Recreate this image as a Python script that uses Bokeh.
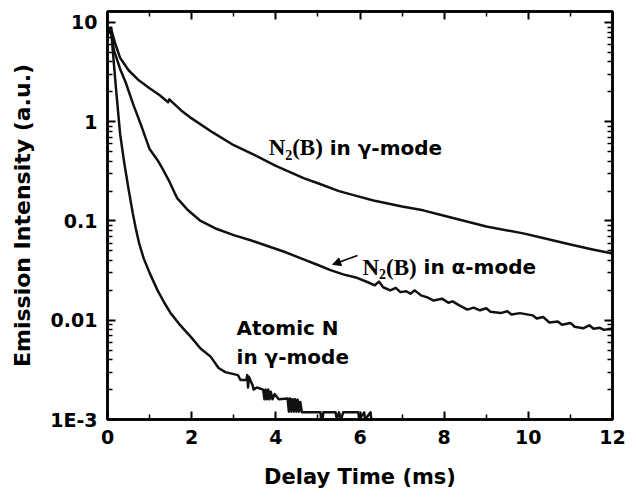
from bokeh.plotting import figure
from bokeh.models import (FixedTicker, LinearAxis, LogAxis, Label, Arrow, NormalHead)
from bokeh.embed import file_html
from bokeh.resources import INLINE

# ---------------- data ----------------
gamma_t = [0.0, 0.08, 0.19, 0.3, 0.5, 0.75, 1.0, 1.25, 1.44, 1.47, 1.5, 1.75, 2.0,
           2.5, 3.0, 3.5, 4.0, 4.66, 5.0, 5.5, 6.0, 6.32, 7.0, 7.5, 8.0, 8.7,
           9.0, 9.88, 10.5, 11.0, 11.5, 12.0]
gamma_v = [7.5, 8.8, 6.0, 4.4, 3.3, 2.6, 2.17, 1.84, 1.57, 1.68, 1.63, 1.30, 1.08,
           0.78, 0.58, 0.46, 0.36, 0.27, 0.24, 0.20, 0.175, 0.161, 0.14, 0.128,
           0.113, 0.095, 0.088, 0.075, 0.065, 0.058, 0.052, 0.047]

alpha_t = [0.0, 0.08, 0.15, 0.3, 0.43, 0.62, 0.8, 1.0, 1.19, 1.3, 1.45, 1.6, 1.66,
           1.9, 2.2, 2.6, 3.0, 3.4, 3.8, 4.2, 4.66, 5.0, 5.3, 5.6, 5.9, 6.2, 6.35,
           6.45, 6.55, 6.72, 6.85, 6.96, 7.1, 7.2, 7.3, 7.45, 7.6, 7.75, 7.95, 8.1,
           8.2, 8.35, 8.55, 8.7, 8.85, 9.0, 9.1, 9.34, 9.5, 9.6, 9.8, 10.1, 10.2,
           10.35, 10.5, 10.7, 10.8, 11.0, 11.1, 11.3, 11.45, 11.55, 11.7, 11.8,
           11.95, 12.0]
alpha_v = [7.5, 8.8, 5.3, 3.4, 2.5, 1.46, 0.92, 0.53, 0.41, 0.34, 0.26, 0.19, 0.169,
           0.13, 0.101, 0.083, 0.072, 0.064, 0.056, 0.049, 0.041, 0.036, 0.032,
           0.029, 0.027, 0.024, 0.0225, 0.0245, 0.0215, 0.020, 0.0212, 0.0192,
           0.0196, 0.0185, 0.0200, 0.0178, 0.0170, 0.0158, 0.0165, 0.0150, 0.0155,
           0.0142, 0.0128, 0.0134, 0.0126, 0.0132, 0.0122, 0.0118, 0.0123, 0.0114,
           0.0118, 0.0112, 0.0104, 0.0108, 0.0095, 0.0097, 0.0090, 0.0094, 0.0086,
           0.0083, 0.0089, 0.0082, 0.0084, 0.0080, 0.0082, 0.0080]

atomic_t = [0.0, 0.08, 0.2, 0.3, 0.4, 0.5, 0.6, 0.67, 0.75, 0.86, 1.0, 1.19, 1.35,
            1.5, 1.7, 1.85, 1.98, 2.21, 2.45, 2.64, 2.8, 2.95, 3.1, 3.16, 3.3,
            3.32, 3.34, 3.36, 3.45, 3.47, 3.55, 3.7, 3.73, 3.76, 3.79, 3.82, 3.85,
            3.88, 3.92, 3.97, 4.07, 4.28, 4.31, 4.34, 4.37, 4.40, 4.43, 4.46, 4.49,
            4.52, 4.55, 4.58, 4.62, 4.66, 5.06, 5.08, 5.11, 5.13, 5.42, 5.45, 5.5,
            5.55, 5.6, 5.96, 5.98, 6.1, 6.12, 6.25, 6.27, 6.37]
atomic_v = [7.5, 8.8, 2.2, 0.75, 0.38, 0.21, 0.12, 0.085, 0.06, 0.042, 0.030, 0.020,
            0.0150, 0.0118, 0.0092, 0.0078, 0.0068, 0.0052, 0.0043, 0.0033, 0.0030,
            0.0029, 0.0028, 0.0025, 0.0025, 0.0028, 0.0021, 0.0027, 0.0022, 0.0020,
            0.0021, 0.0020, 0.0016, 0.0020, 0.0016, 0.0020, 0.0016, 0.0019, 0.0016,
            0.0018, 0.0016, 0.00163, 0.00120, 0.00163, 0.00120, 0.00160, 0.00120,
            0.00160, 0.00120, 0.00158, 0.00120, 0.00150, 0.00118, 0.00118, 0.00118,
            0.00100, 0.00100, 0.00118, 0.00118, 0.00100, 0.00118, 0.00100, 0.00118,
            0.00118, 0.00100, 0.00118, 0.00100, 0.00118, 0.00100, 0.00100]

x_ticks = [0, 2, 4, 6, 8, 10, 12]
x_minor = [1, 3, 5, 7, 9, 11]
y_ticks = [0.001, 0.01, 0.1, 1, 10]
y_tick_labels = ["1E-3", "0.01", "0.1", "1", "10"]

# ---------------- figure ----------------
SANS = "DejaVu Sans"
SERIF = "Liberation Serif"

p = figure(width=637, height=497, x_range=(0, 12), y_range=(1e-3, 12.9),
           y_axis_type="log", output_backend="svg", toolbar_location=None,
           min_border_left=107, min_border_right=25, min_border_top=11,
           min_border_bottom=78)
p.grid.visible = False
p.background_fill_color = "white"
p.border_fill_color = "white"
p.outline_line_color = "black"
p.outline_line_width = 2.5

y_minor = [k * 10.0 ** e for e in range(-3, 1) for k in range(2, 10)]

def style(ax, labels=True):
    ax.axis_line_width = 2.5
    ax.axis_line_color = "black"
    ax.major_tick_in = 8
    ax.major_tick_out = 0
    ax.minor_tick_in = 5
    ax.minor_tick_out = 0
    ax.major_tick_line_width = 2
    ax.minor_tick_line_width = 1.5
    ax.major_tick_line_color = "black"
    ax.minor_tick_line_color = "black"
    if labels:
        ax.major_label_text_font = SANS
        ax.major_label_text_font_style = "bold"
        ax.major_label_text_font_size = "19px"
        ax.major_label_text_color = "black"
        ax.major_label_standoff = 10
    else:
        ax.major_label_text_font_size = "1px"
        ax.major_label_text_color = None
        ax.major_label_standoff = 0

p.xaxis.ticker = FixedTicker(ticks=x_ticks, minor_ticks=x_minor)
p.yaxis.ticker = FixedTicker(ticks=y_ticks, minor_ticks=y_minor)
p.yaxis.major_label_overrides = {v: s for v, s in zip(y_ticks, y_tick_labels)}
for ax in p.xaxis + p.yaxis:
    style(ax)

p.xaxis.axis_label = "Delay Time (ms)"
p.yaxis.axis_label = "Emission Intensity (a.u.)"
for ax, size, so in [(p.xaxis, "21px", 18), (p.yaxis, "22px", 12)]:
    ax.axis_label_text_font = SANS
    ax.axis_label_text_font_style = "bold"
    ax.axis_label_text_font_size = size
    ax.axis_label_text_color = "black"
    ax.axis_label_standoff = so

top = LinearAxis(ticker=FixedTicker(ticks=x_ticks, minor_ticks=x_minor))
style(top, labels=False)
p.add_layout(top, "above")
right = LogAxis(ticker=FixedTicker(ticks=y_ticks, minor_ticks=y_minor))
style(right, labels=False)
p.add_layout(right, "right")

# ---------------- curves ----------------
for t, v in [(gamma_t, gamma_v), (alpha_t, alpha_v), (atomic_t, atomic_v)]:
    p.line(t, v, line_color="#111111", line_width=2.5, line_join="round")

# ---------------- annotations ----------------
def lab(x, y, text, font, size, dx=0, dy=0, style="bold"):
    p.add_layout(Label(x=x, y=y, text=text, text_font=font, text_font_size=size,
                       text_font_style=style, text_color="black", x_offset=dx,
                       y_offset=dy, text_align="left", text_baseline="alphabetic"))

def n2b(x, y, mode):
    lab(x, y, "N", SERIF, "23px", 0)
    lab(x, y, "2", SERIF, "14px", 16.5, -7)
    lab(x, y, "(B)", SERIF, "23px", 23.5)
    lab(x, y, "in " + mode + "-mode", SANS, "20px", 61)

n2b(3.83, 0.550, "γ")
n2b(6.06, 0.0340, "α")
lab(3.066, 0.00845, "Atomic N", SANS, "20px")
lab(3.066, 0.00425, "in γ-mode", SANS, "20px")

p.add_layout(Arrow(end=NormalHead(size=8, line_color="black", fill_color="black",
                                  line_width=1),
                   x_start=5.94, y_start=0.0449, x_end=5.35, y_end=0.0365,
                   line_color="black", line_width=1.5))

open("out.html", "w").write(file_html(p, INLINE))
